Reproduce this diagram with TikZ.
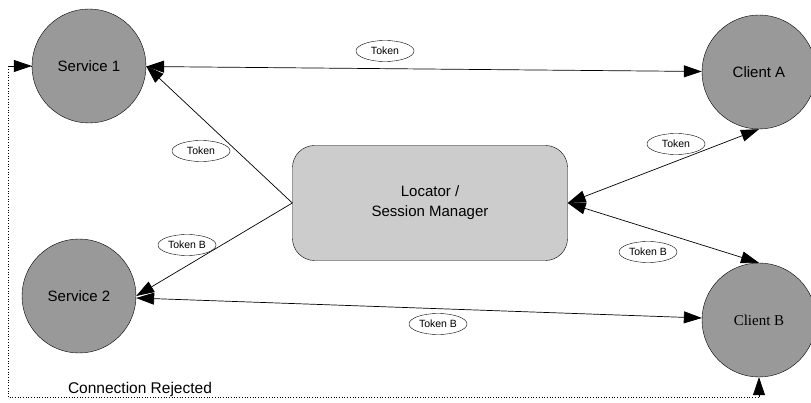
\documentclass[tikz,border=0pt]{standalone}
\usepackage{fontspec}
\setmainfont{Liberation Sans}
\newfontfamily\clientfont{Liberation Serif}
\usepackage{tikz}
\usetikzlibrary{shapes}
\usetikzlibrary{arrows.meta}

\begin{document}
\begin{tikzpicture}[x=1pt, y=-1pt,
    every edge/.style={draw, line width=0.7pt},
    party/.style={circle, draw, fill=black!40, minimum size=114pt, inner sep=0pt,
      font=\fontsize{15}{17}\selectfont},
    token/.style={ellipse, draw, fill=white, minimum width=58pt, minimum height=21pt,
      inner sep=0pt, font=\fontsize{10.5}{12}\selectfont},
    oneway/.style={-{Triangle[length=18pt,width=12pt]}},
    twoway/.style={{Triangle[length=18pt,width=12pt]}-{Triangle[length=18pt,width=12pt]}}]
  \useasboundingbox (0, 0) rectangle (811, 403);

  \node[party] (s1) at (89, 66) {Service 1};
  \node[party] (s2) at (79, 296) {Service 2};
  \node[party] (ca) at (759, 72) {Client A};
  \node[party] (cb) at (759, 320) {\clientfont Client B};
  \node[draw, fill=black!20, rounded corners=22pt, minimum width=275pt, minimum height=115pt,
    align=center, font=\fontsize{15}{20}\selectfont] (loc) at (430, 203) {Locator /\\Session Manager};

  \path (s1) edge[twoway] (ca);
  \path (s2) edge[twoway] (cb);
  \path (loc.west) edge[oneway] (s1.east);
  \path (loc.west) edge[oneway] (s2.east);
  \path (loc.east) edge[twoway] (ca.south);
  \path (loc.east) edge[twoway] (cb.north);

  % rejected connection, dotted round the left and bottom
  \coordinate (bend) at (8, 397);
  \draw[dotted, line width=0.7pt] (s1.west) -| (bend) -| (cb.south);
  \draw[line width=0.7pt, oneway] (bend |- s1.west) -- (s1.west);
  \draw[line width=0.7pt, oneway] (cb.south |- bend) -- (cb.south);
  \node[font=\fontsize{15.5}{17}\selectfont] (rej) at (140, 389) {Connection Rejected};

  \node[token] (t1) at (385, 51) {Token};
  \node[token] (t2) at (201, 151) {Token};
  \node[token] (t3) at (187, 245) {Token B};
  \node[token] (t4) at (438, 324) {Token B};
  \node[token] (t5) at (676, 144) {Token};
  \node[token] (t6) at (648, 252) {Token B};
\end{tikzpicture}
\end{document}
